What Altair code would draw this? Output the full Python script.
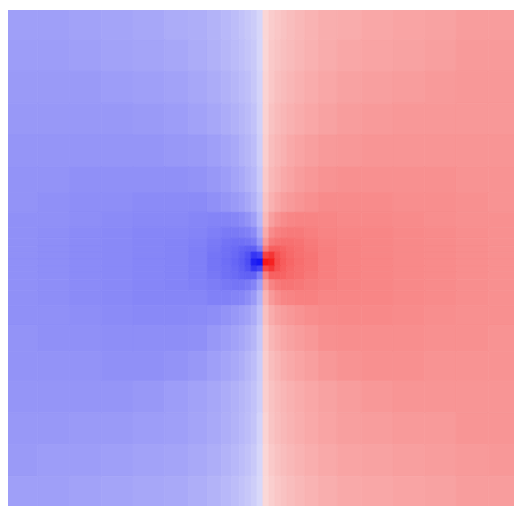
import altair as alt
import pandas as pd

# Cell boundaries (distance from the source, horizontal and vertical)
x_edges = [-259, -227, -195, -163, -131, -99, -75, -56, -42, -32, -24, -18, -12, -6, 0,
           6, 12, 18, 24, 32, 42, 56, 75, 99, 131, 163, 195, 227, 257]
y_edges = [256, 224, 192, 160, 128, 96, 70, 50, 35, 24, 16, 10, 3, -4, -10, -18, -29,
           -44, -64, -90, -120, -152, -184, -216, -250]

# Field values, one row per horizontal band (top to bottom), one value per column (left to right)
values = [
    [-0.37, -0.37, -0.36, -0.35, -0.34, -0.32, -0.31, -0.29, -0.27, -0.25, -0.23, -0.21, -0.19, -0.15,
     0.15, 0.19, 0.21, 0.23, 0.25, 0.27, 0.29, 0.31, 0.32, 0.34, 0.35, 0.36, 0.38, 0.38],
    [-0.38, -0.38, -0.37, -0.36, -0.35, -0.34, -0.32, -0.30, -0.28, -0.26, -0.24, -0.22, -0.20, -0.15,
     0.15, 0.20, 0.22, 0.24, 0.26, 0.28, 0.30, 0.32, 0.34, 0.35, 0.36, 0.37, 0.39, 0.39],
    [-0.39, -0.39, -0.39, -0.38, -0.37, -0.36, -0.34, -0.32, -0.30, -0.28, -0.26, -0.24, -0.21, -0.16,
     0.16, 0.21, 0.24, 0.26, 0.28, 0.30, 0.32, 0.34, 0.36, 0.37, 0.38, 0.39, 0.40, 0.40],
    [-0.40, -0.40, -0.40, -0.40, -0.39, -0.38, -0.36, -0.34, -0.32, -0.30, -0.28, -0.26, -0.23, -0.17,
     0.17, 0.23, 0.26, 0.28, 0.30, 0.32, 0.34, 0.36, 0.38, 0.39, 0.40, 0.40, 0.40, 0.40],
    [-0.41, -0.41, -0.41, -0.41, -0.41, -0.40, -0.39, -0.37, -0.35, -0.33, -0.30, -0.28, -0.25, -0.18,
     0.18, 0.25, 0.28, 0.30, 0.33, 0.35, 0.37, 0.39, 0.40, 0.41, 0.41, 0.41, 0.41, 0.41],
    [-0.42, -0.42, -0.43, -0.43, -0.43, -0.43, -0.42, -0.40, -0.38, -0.35, -0.33, -0.30, -0.27, -0.20,
     0.20, 0.27, 0.30, 0.33, 0.35, 0.38, 0.40, 0.42, 0.43, 0.43, 0.43, 0.43, 0.42, 0.42],
    [-0.42, -0.43, -0.44, -0.44, -0.45, -0.45, -0.45, -0.43, -0.41, -0.39, -0.37, -0.34, -0.30, -0.23,
     0.23, 0.30, 0.34, 0.37, 0.39, 0.41, 0.43, 0.45, 0.45, 0.45, 0.44, 0.44, 0.43, 0.42],
    [-0.43, -0.43, -0.44, -0.45, -0.46, -0.46, -0.47, -0.48, -0.48, -0.47, -0.45, -0.42, -0.37, -0.27,
     0.27, 0.37, 0.42, 0.45, 0.47, 0.48, 0.48, 0.47, 0.46, 0.46, 0.45, 0.44, 0.43, 0.43],
    [-0.43, -0.44, -0.45, -0.46, -0.47, -0.47, -0.48, -0.50, -0.52, -0.52, -0.51, -0.49, -0.45, -0.33,
     0.33, 0.45, 0.49, 0.51, 0.52, 0.52, 0.50, 0.48, 0.47, 0.47, 0.46, 0.45, 0.44, 0.43],
    [-0.43, -0.44, -0.45, -0.46, -0.47, -0.48, -0.49, -0.52, -0.55, -0.56, -0.56, -0.55, -0.52, -0.40,
     0.40, 0.52, 0.55, 0.56, 0.56, 0.55, 0.52, 0.49, 0.48, 0.47, 0.46, 0.45, 0.44, 0.43],
    [-0.43, -0.44, -0.45, -0.46, -0.47, -0.48, -0.50, -0.53, -0.56, -0.58, -0.61, -0.63, -0.63, -0.52,
     0.52, 0.63, 0.63, 0.61, 0.58, 0.56, 0.53, 0.50, 0.48, 0.47, 0.46, 0.45, 0.44, 0.43],
    [-0.43, -0.44, -0.45, -0.46, -0.47, -0.48, -0.50, -0.54, -0.56, -0.59, -0.63, -0.68, -0.80, -0.75,
     0.75, 0.80, 0.68, 0.63, 0.59, 0.56, 0.54, 0.50, 0.48, 0.47, 0.46, 0.45, 0.44, 0.43],
    [-0.43, -0.44, -0.45, -0.46, -0.47, -0.48, -0.50, -0.54, -0.57, -0.60, -0.64, -0.70, -0.88, -0.92,
     0.92, 0.88, 0.70, 0.64, 0.60, 0.57, 0.54, 0.50, 0.48, 0.47, 0.46, 0.45, 0.44, 0.43],
    [-0.43, -0.44, -0.45, -0.46, -0.47, -0.48, -0.50, -0.54, -0.56, -0.59, -0.63, -0.68, -0.79, -0.73,
     0.73, 0.79, 0.68, 0.63, 0.59, 0.56, 0.54, 0.50, 0.48, 0.47, 0.46, 0.45, 0.44, 0.43],
    [-0.43, -0.44, -0.45, -0.46, -0.47, -0.48, -0.50, -0.53, -0.56, -0.58, -0.61, -0.62, -0.62, -0.50,
     0.50, 0.62, 0.62, 0.61, 0.58, 0.56, 0.53, 0.50, 0.48, 0.47, 0.46, 0.45, 0.44, 0.43],
    [-0.43, -0.44, -0.45, -0.46, -0.47, -0.48, -0.49, -0.51, -0.53, -0.54, -0.54, -0.52, -0.48, -0.37,
     0.37, 0.48, 0.52, 0.54, 0.54, 0.53, 0.51, 0.49, 0.48, 0.47, 0.46, 0.45, 0.44, 0.43],
    [-0.43, -0.44, -0.45, -0.46, -0.47, -0.47, -0.47, -0.49, -0.49, -0.48, -0.47, -0.44, -0.39, -0.29,
     0.29, 0.39, 0.44, 0.47, 0.48, 0.49, 0.49, 0.47, 0.47, 0.47, 0.46, 0.45, 0.44, 0.43],
    [-0.43, -0.43, -0.44, -0.45, -0.46, -0.46, -0.45, -0.44, -0.42, -0.40, -0.38, -0.36, -0.32, -0.24,
     0.24, 0.32, 0.36, 0.38, 0.40, 0.42, 0.44, 0.45, 0.46, 0.46, 0.45, 0.44, 0.43, 0.43],
    [-0.42, -0.43, -0.43, -0.44, -0.44, -0.44, -0.43, -0.40, -0.38, -0.36, -0.34, -0.31, -0.28, -0.21,
     0.21, 0.28, 0.31, 0.34, 0.36, 0.38, 0.40, 0.43, 0.44, 0.44, 0.44, 0.43, 0.43, 0.42],
    [-0.42, -0.42, -0.42, -0.43, -0.43, -0.42, -0.40, -0.37, -0.35, -0.33, -0.31, -0.28, -0.25, -0.19,
     0.19, 0.25, 0.28, 0.31, 0.33, 0.35, 0.37, 0.40, 0.42, 0.43, 0.43, 0.42, 0.42, 0.42],
    [-0.41, -0.41, -0.41, -0.41, -0.40, -0.38, -0.36, -0.34, -0.32, -0.30, -0.28, -0.26, -0.23, -0.18,
     0.18, 0.23, 0.26, 0.28, 0.30, 0.32, 0.34, 0.36, 0.38, 0.40, 0.41, 0.41, 0.41, 0.41],
    [-0.40, -0.40, -0.39, -0.39, -0.38, -0.37, -0.35, -0.33, -0.31, -0.29, -0.27, -0.25, -0.22, -0.16,
     0.16, 0.22, 0.25, 0.27, 0.29, 0.31, 0.33, 0.35, 0.37, 0.38, 0.39, 0.39, 0.41, 0.41],
    [-0.39, -0.38, -0.38, -0.37, -0.36, -0.35, -0.33, -0.31, -0.29, -0.27, -0.25, -0.23, -0.20, -0.15,
     0.15, 0.20, 0.23, 0.25, 0.27, 0.29, 0.31, 0.33, 0.35, 0.36, 0.37, 0.38, 0.39, 0.40],
    [-0.37, -0.37, -0.36, -0.35, -0.34, -0.33, -0.31, -0.29, -0.27, -0.25, -0.23, -0.21, -0.18, -0.14,
     0.14, 0.18, 0.21, 0.23, 0.25, 0.27, 0.29, 0.31, 0.33, 0.34, 0.35, 0.36, 0.38, 0.38],
]

rows = []
for i, row in enumerate(values):
    for j, v in enumerate(row):
        rows.append({
            "x0": x_edges[j], "x1": x_edges[j + 1],
            "y0": y_edges[i], "y1": y_edges[i + 1],
            "v": v,
        })
df = pd.DataFrame(rows)

cscale = alt.Scale(domain=[-1, 0, 1], range=["#0303f2", "#fbfbfb", "#f40303"], interpolate="rgb")

chart = alt.Chart(df).mark_rect(strokeWidth=0.8).encode(
    x=alt.X("x0:Q", scale=alt.Scale(domain=[-257, 253], nice=False, zero=False), axis=None),
    x2="x1:Q",
    y=alt.Y("y0:Q", scale=alt.Scale(domain=[-246, 254], nice=False, zero=False), axis=None),
    y2="y1:Q",
    color=alt.Color("v:Q", scale=cscale, legend=None),
    stroke=alt.Color("v:Q", scale=cscale, legend=None),
).properties(
    width=510, height=500, padding=0
).configure_view(stroke=None, clip=True)

chart.save("out.html", embed_options={"renderer": "svg", "actions": False})
